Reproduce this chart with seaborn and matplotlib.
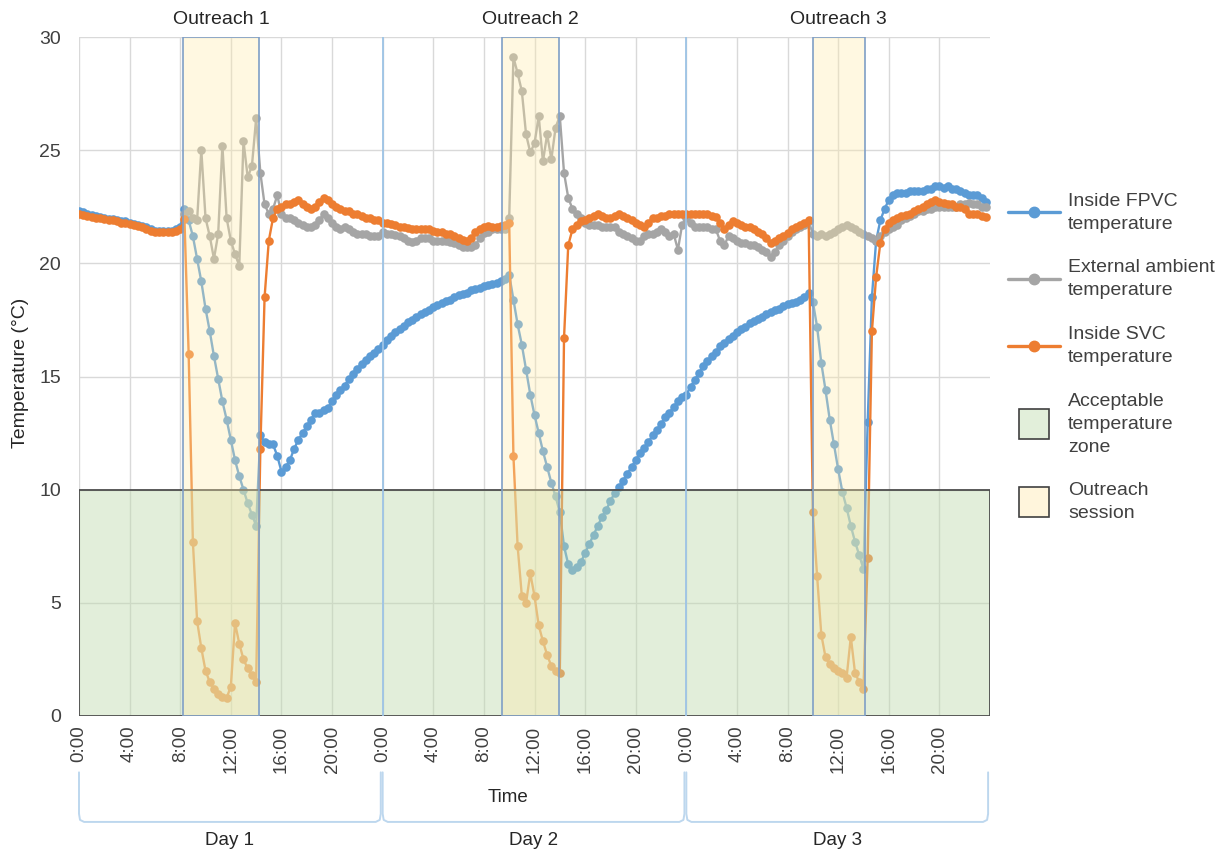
import numpy as np
import pandas as pd
import matplotlib
matplotlib.use("Agg")
import matplotlib.pyplot as plt
import seaborn as sns
from matplotlib.patches import Rectangle
from matplotlib.lines import Line2D
from matplotlib import transforms

nan = np.nan

# ---------------- data: readings every 20 minutes (3 per hour), 24 h per day ----------------
fpvc_day1 = [22.3, 22.25, 22.2, 22.15, 22.1, 22.05, 22.0, 21.95, 21.95, 21.9, 21.85, 21.85,
             21.8, 21.75, 21.7, 21.65, 21.6, 21.5, 21.45, 21.45, 21.45, 21.45, 21.45, 21.5,
             21.6, 22.4, 21.9, 21.2, 20.2, 19.2, 18.0, 17.0, 15.9, 14.9, 13.9, 13.1,
             12.2, 11.3, 10.6, 10.0, 9.4, 8.9, 8.4, 12.4, 12.1, 12.0, 12.0, 11.5,
             10.8, 11.0, 11.3, 11.8, 12.2, 12.5, 12.8, 13.1, 13.4, 13.4, 13.5, 13.6,
             13.9, 14.2, 14.4, 14.6, 14.9, 15.1, 15.35, 15.55, 15.75, 15.9, 16.05, 16.2]
fpvc_day2 = [16.4, 16.6, 16.8, 16.95, 17.1, 17.25, 17.4, 17.5, 17.65, 17.75, 17.85, 17.95,
             18.05, 18.15, 18.25, 18.35, 18.4, 18.5, 18.6, 18.65, 18.7, 18.8, 18.85, 18.9,
             19.0, 19.05, 19.1, 19.15, 19.2, 19.3, 19.5, 18.4, 17.3, 16.4, 15.3, 14.2,
             13.3, 12.5, 11.7, 11.0, 10.3, 9.7, 9.0, 7.5, 6.7, 6.45, 6.6, 6.8,
             7.2, 7.6, 8.0, 8.4, 8.8, 9.1, 9.5, 9.85, 10.1, 10.4, 10.7, 11.0,
             11.3, 11.6, 11.85, 12.1, 12.4, 12.65, 12.9, 13.2, 13.4, 13.65, 13.9, 14.1]
fpvc_day3 = [14.2, 14.55, 14.85, 15.15, 15.45, 15.7, 15.9, 16.1, 16.35, 16.5, 16.65, 16.8,
             16.95, 17.1, 17.2, 17.35, 17.45, 17.55, 17.65, 17.75, 17.85, 17.95, 18.0, 18.1,
             18.2, 18.25, 18.3, 18.4, 18.5, 18.7, 18.3, 17.2, 15.6, 14.4, 13.1, 12.0,
             10.9, 9.9, 9.2, 8.4, 7.7, 7.1, 6.5, 13.0, 18.5, 21.0, 21.9, 22.4,
             22.8, 23.0, 23.1, 23.1, 23.1, 23.2, 23.2, 23.2, 23.2, 23.3, 23.3, 23.4,
             23.4, 23.35, 23.4, 23.3, 23.3, 23.2, 23.1, 23.0, 23.0, 23.0, 22.9, 22.7]

ambient_day1 = [nan, nan, nan, nan, nan, nan, nan, nan, nan, nan, nan, nan,
                nan, nan, nan, nan, nan, nan, nan, nan, nan, nan, nan, nan,
                nan, 22.2, 22.3, 22.0, 21.9, 25.0, 22.0, 21.2, 20.2, 21.3, 25.2, 22.0,
                21.0, 20.4, 19.9, 25.4, 23.8, 24.3, 26.4, 24.0, 22.6, 22.2, 22.4, 23.0,
                22.2, 22.0, 22.0, 21.9, 21.8, 21.7, 21.6, 21.6, 21.7, 21.9, 22.2, 22.0,
                21.8, 21.6, 21.5, 21.6, 21.5, 21.4, 21.3, 21.3, 21.3, 21.2, 21.2, 21.2]
ambient_day2 = [21.4, 21.3, 21.3, 21.25, 21.2, 21.1, 21.0, 20.95, 21.0, 21.1, 21.1, 21.1,
                21.0, 21.0, 21.0, 21.0, 20.95, 20.9, 20.8, 20.7, 20.7, 20.7, 20.8, 21.1,
                21.35, 21.4, 21.5, 21.5, 21.5, 21.5, 22.0, 29.1, 28.4, 27.6, 25.7, 24.9,
                25.3, 26.5, 24.5, 25.7, 24.6, 26.0, 26.5, 24.0, 22.9, 22.4, 22.2, 22.0,
                21.8, 21.7, 21.7, 21.7, 21.6, 21.6, 21.6, 21.6, 21.4, 21.3, 21.2, 21.1,
                21.0, 21.0, 21.2, 21.3, 21.3, 21.4, 21.5, 21.4, 21.2, 21.3, 20.6, 21.7]
ambient_day3 = [22.0, 21.8, 21.6, 21.6, 21.6, 21.6, 21.5, 21.5, 21.0, 20.8, 21.2, 21.1,
                21.0, 20.9, 20.9, 20.8, 20.8, 20.7, 20.6, 20.5, 20.3, 20.5, 20.8, 21.0,
                21.2, 21.4, 21.5, 21.6, 21.7, 21.85, 21.3, 21.2, 21.3, 21.2, 21.3, 21.4,
                21.5, 21.6, 21.7, 21.6, 21.5, 21.4, 21.3, 21.2, 21.1, 21.0, 21.2, 21.4,
                21.5, 21.6, 21.7, 21.9, 22.0, 22.1, 22.2, 22.3, 22.3, 22.4, 22.4, 22.5,
                22.5, 22.5, 22.5, 22.5, 22.5, 22.6, 22.6, 22.65, 22.6, 22.6, 22.5, 22.5]

svc_day1 = [22.2, 22.15, 22.1, 22.05, 22.0, 22.0, 21.95, 21.9, 21.9, 21.85, 21.8, 21.8,
            21.75, 21.7, 21.65, 21.6, 21.5, 21.45, 21.4, 21.4, 21.4, 21.4, 21.4, 21.45,
            21.5, 21.95, 16.0, 7.7, 4.2, 3.0, 2.0, 1.5, 1.2, 0.95, 0.85, 0.8,
            1.3, 4.1, 3.2, 2.5, 2.1, 1.8, 1.5, 11.8, 18.5, 21.0, 22.0, 22.4,
            22.5, 22.6, 22.6, 22.7, 22.8, 22.6, 22.5, 22.4, 22.5, 22.7, 22.9, 22.8,
            22.6, 22.5, 22.4, 22.3, 22.3, 22.2, 22.2, 22.1, 22.0, 22.0, 21.9, 21.9]
svc_day2 = [21.8, 21.8, 21.75, 21.7, 21.6, 21.6, 21.55, 21.5, 21.5, 21.5, 21.5, 21.5,
            21.45, 21.4, 21.4, 21.3, 21.3, 21.2, 21.1, 21.05, 21.0, 21.1, 21.4, 21.5,
            21.6, 21.65, 21.6, 21.6, 21.65, 21.7, 21.8, 11.5, 7.5, 5.3, 5.0, 6.3,
            5.3, 4.0, 3.3, 2.7, 2.2, 2.0, 1.9, 16.7, 20.8, 21.5, 21.7, 21.85,
            21.9, 22.0, 22.1, 22.2, 22.1, 22.0, 22.0, 22.1, 22.2, 22.1, 22.0, 21.9,
            21.8, 21.7, 21.6, 21.8, 22.0, 22.0, 22.1, 22.1, 22.2, 22.2, 22.2, 22.2]
svc_day3 = [22.2, 22.2, 22.2, 22.2, 22.2, 22.2, 22.1, 22.05, 21.8, 21.5, 21.7, 21.85,
            21.8, 21.7, 21.6, 21.6, 21.5, 21.4, 21.3, 21.1, 20.9, 21.0, 21.1, 21.2,
            21.35, 21.5, 21.6, 21.7, 21.8, 21.9, 9.0, 6.2, 3.6, 2.6, 2.3, 2.1,
            2.0, 1.9, 1.7, 3.5, 1.9, 1.5, 1.2, 7.0, 17.0, 19.4, 20.9, 21.5,
            21.8, 21.9, 22.0, 22.1, 22.15, 22.2, 22.3, 22.4, 22.5, 22.6, 22.7, 22.8,
            22.7, 22.65, 22.6, 22.6, 22.5, 22.5, 22.4, 22.2, 22.2, 22.2, 22.1, 22.05]

series_names = ["Inside FPVC\ntemperature", "External ambient\ntemperature", "Inside SVC\ntemperature"]
series_colors = ["#5B9BD5", "#A5A5A5", "#ED7D31"]

outreach_labels = ["Outreach 1", "Outreach 2", "Outreach 3"]
outreach_start = [8.25, 33.4, 58.0]     # hours since Day 1 0:00
outreach_end = [14.25, 37.95, 62.1]
day_labels = ["Day 1", "Day 2", "Day 3"]
acceptable_zone = (0, 10)

tick_hours = list(range(0, 72, 4))
tick_labels = ["0:00", "4:00", "8:00", "12:00", "16:00", "20:00"] * 3

# ---------------- build frame ----------------
fpvc = fpvc_day1 + fpvc_day2 + fpvc_day3
ambient = ambient_day1 + ambient_day2 + ambient_day3
svc = svc_day1 + svc_day2 + svc_day3
hours = np.arange(len(fpvc)) / 3.0
df = pd.concat([
    pd.DataFrame({"hours": hours, "temp": vals, "series": name})
    for name, vals in zip(series_names, [fpvc, ambient, svc])
], ignore_index=True)

# ---------------- style ----------------
sns.set_style("white")
plt.rcParams["font.family"] = ["Liberation Sans", "DejaVu Sans"]
txt = "#404040"

fig = plt.figure(figsize=(12.2, 8.51), dpi=100)
ax = fig.add_axes([79 / 1220, 1 - 716 / 851, (990 - 79) / 1220, (716 - 37) / 851])

sns.lineplot(data=df, x="hours", y="temp", hue="series", hue_order=series_names,
             palette=series_colors, marker="o", markersize=6.2, markeredgewidth=0,
             linewidth=1.7, errorbar=None, legend=False, ax=ax, zorder=2)

ax.set_xlim(0, 72)
ax.set_ylim(0, 30)
ax.set_xticks(tick_hours)
ax.set_xticklabels(tick_labels, rotation=90, fontsize=13.5, color=txt)
ax.set_yticks(range(0, 31, 5))
ax.set_yticklabels([str(v) for v in range(0, 31, 5)], fontsize=14, color=txt)
ax.tick_params(axis="x", length=0, pad=7)
ax.tick_params(axis="y", length=0, pad=13)
ax.set_xlabel("")
ax.set_ylabel("")
for s in ax.spines.values():
    s.set_visible(False)
ax.grid(True, color="#D9D9D9", linewidth=1.0, zorder=0)
ax.set_axisbelow(True)

# acceptable zone overlay
ax.add_patch(Rectangle((0, acceptable_zone[0]), 72, acceptable_zone[1] - acceptable_zone[0],
                       facecolor=(191 / 255, 219 / 255, 173 / 255, 0.45),
                       edgecolor="#4D4D4D", linewidth=1.3, zorder=3))
# outreach sessions
bt = transforms.blended_transform_factory(ax.transData, ax.transAxes)
for lab, s, e in zip(outreach_labels, outreach_start, outreach_end):
    ax.add_patch(Rectangle((s, 0), e - s, 30,
                           facecolor=(1.0, 235 / 255, 169 / 255, 0.35),
                           edgecolor="#7F9FC6", linewidth=1.2, zorder=3.5))
    ax.text((s + e) / 2, 1.026, lab, transform=bt,
            ha="center", va="center", fontsize=14, color="#262626")

# day boundaries
for d in (24, 48):
    ax.axvline(d, color="#9DC3E6", linewidth=1.3, zorder=4)

# braces below the axis
ytop, ybot = -0.083, -0.156
for i, lab in enumerate(day_labels):
    x0, x1 = 24 * i, 24 * (i + 1) - 0.15
    xs = [x0, x0, x0 + 0.08, x0 + 0.4, x1 - 0.4, x1 - 0.08, x1, x1]
    ys = [ytop, ybot + 0.012, ybot + 0.003, ybot, ybot, ybot + 0.003, ybot + 0.012, ytop]
    ax.add_line(Line2D(xs, ys, transform=bt, color="#BDD7EE", linewidth=1.4, clip_on=False))
    ax.text((x0 + x1) / 2, -0.183, lab, transform=bt, ha="center", va="center",
            fontsize=13.5, color="#262626")

fig.text(508 / 1220, 1 - 797 / 851, "Time", ha="center", va="center", fontsize=13.5, color="#262626")
fig.text(21 / 1220, 1 - 373 / 851, "Temperature (°C)", rotation=90, ha="center", va="center",
         fontsize=14, color="#262626")

# legend
handles = [Line2D([0], [0], color=c, marker="o", markersize=7.5, linewidth=2.4) for c in series_colors]
handles += [Line2D([0], [0], linestyle="none", marker="s", markersize=21,
                   markerfacecolor="#E2EFDA", markeredgecolor="#404040", markeredgewidth=1.2),
            Line2D([0], [0], linestyle="none", marker="s", markersize=21,
                   markerfacecolor="#FFF5DC", markeredgecolor="#404040", markeredgewidth=1.2)]
labels = series_names + ["Acceptable\ntemperature\nzone", "Outreach\nsession"]
leg = fig.legend(handles, labels, loc="upper left", bbox_to_anchor=(1000 / 1220, 1 - 185 / 851),
                 frameon=False, fontsize=14, handlelength=2.7, labelspacing=1.38,
                 handletextpad=0.4, labelcolor="#404040", borderaxespad=0)
for t in leg.get_texts():
    t.set_linespacing(1.45)

fig.savefig("out.png", dpi=100)
